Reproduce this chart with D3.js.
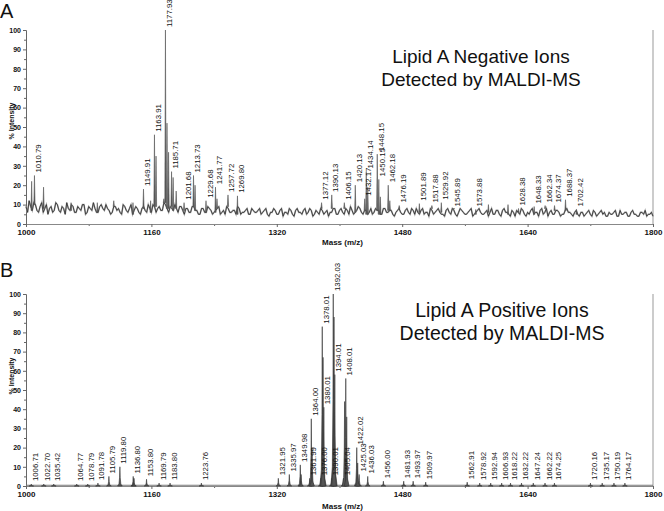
<!DOCTYPE html>
<html>
<head>
<meta charset="utf-8">
<script src="https://cdn.jsdelivr.net/npm/d3@7"></script>
<style>
  body { margin: 0; background: #fff; }
  svg { display: block; }
  text { font-family: "Liberation Sans", Arial, sans-serif; fill: #111; }
</style>
</head>
<body>
<svg id="chart" width="664" height="511"></svg>
<script>
// ---- data ----
const massTicks = [1000, 1160, 1320, 1480, 1640, 1800];
const massMinorTicks = [1080, 1240, 1400, 1560, 1720];
const intensityTicks = [0, 10, 20, 30, 40, 50, 60, 70, 80, 90, 100];

// panel A baseline noise, read every 4 m/z from 1000 to 1800
const negNoise = [
    9, 12, 7, 10, 6, 11, 8, 5, 9, 7, 10, 6, 8, 11, 7, 9, 6, 8, 10, 5, 9, 7, 8, 6, 10, 7,
    8, 5, 9, 7, 6, 10, 7, 8, 5, 9, 6, 8, 7, 10, 6, 9, 8, 7, 11, 8, 9, 7, 8, 9, 7,
    8, 6, 9, 7, 5, 8, 6, 9, 7, 6, 8, 5, 7, 9, 6, 7, 5, 8, 6, 7, 5, 8, 6, 7, 5,
    7, 5, 6, 8, 5, 7, 4, 6, 8, 5, 7, 6, 5, 8, 6, 7, 5, 6, 8, 5, 7, 6, 8, 5, 7,
    6, 8, 5, 7, 6, 9, 6, 7, 5, 8, 6, 7, 5, 8, 6, 7, 5, 6, 8, 5, 7, 6, 8, 5, 6,
    7, 5, 6, 8, 5, 7, 6, 5, 7, 6, 8, 5, 6, 7, 5, 6, 8, 5, 7, 6, 5, 7, 6, 5, 7,
    5, 7, 6, 5, 7, 4, 6, 8, 5, 6, 7, 5, 6, 7, 5, 8, 6, 5, 7, 6, 5, 7, 6, 5, 6,
    5, 6, 4, 6, 5, 7, 4, 6, 5, 4, 6, 5, 7, 4, 5, 6, 4, 6, 5, 4, 6, 5, 4, 5, 4
];
// panel A baseline noise at the in-between points, 1002 to 1798
const negNoiseMid = [
    6, 9, 11, 7, 9, 6, 10, 8, 6, 11, 7, 9, 5, 8, 10, 6, 9, 7, 10, 6, 8, 11, 6, 9, 8,
    10, 7, 6, 9, 8, 5, 9, 6, 10, 7, 8, 5, 9, 6, 8, 10, 6, 9, 7, 10, 6, 8, 10, 6, 9,
    5, 8, 6, 9, 7, 5, 8, 6, 8, 5, 7, 9, 6, 5, 8, 6, 7, 9, 5, 6, 8, 5, 7, 6, 8,
    6, 8, 4, 6, 7, 5, 8, 6, 5, 7, 4, 8, 6, 7, 5, 8, 4, 7, 5, 7, 6, 4, 6, 8, 5,
    8, 5, 7, 9, 5, 7, 8, 5, 7, 6, 5, 8, 7, 5, 8, 6, 7, 4, 7, 6, 5, 8, 5, 7, 8,
    5, 8, 6, 4, 7, 6, 8, 5, 4, 8, 5, 7, 4, 8, 6, 5, 7, 4, 6, 8, 5, 6, 4, 8, 5,
    7, 4, 8, 6, 4, 6, 7, 5, 7, 4, 5, 8, 6, 4, 8, 6, 4, 7, 5, 7, 4, 5, 8, 6, 4,
    7, 4, 6, 5, 7, 4, 6, 5, 7, 6, 4, 5, 6, 4, 7, 5, 6, 4, 7, 5, 4, 6, 7, 5, 6
];
const negNoiseStep = 4;

// panel A labelled peaks
const negPeakMass = [1010.79, 1149.91, 1163.91, 1177.93, 1185.71, 1201.68, 1213.73, 1229.68,
    1241.77, 1257.72, 1269.80, 1377.12, 1390.13, 1406.15, 1420.13, 1432.17, 1434.14, 1448.15,
    1450.15, 1462.18, 1476.19, 1501.89, 1517.88, 1529.92, 1545.89, 1573.88, 1628.38, 1648.33,
    1662.34, 1674.37, 1688.37, 1702.42];
const negPeakIntensity = [25, 18, 46, 100, 27, 11, 25, 12,
    19, 15, 14.5, 11, 15, 11, 20, 13, 27, 36,
    23, 20, 9.5, 10.5, 9.5, 11, 7.5, 7.5, 8, 9,
    9.5, 9.5, 12.5, 7.5];
// panel A unlabelled peaks
const negMinorMass = [1007.2, 1022.4, 1057.5, 1091.0, 1112.0, 1136.5, 1159.0, 1165.9, 1175.9,
    1179.9, 1181.9, 1187.7, 1191.6, 1215.7, 1243.7, 1436.1, 1452.1, 1464.2, 1590.0, 1615.0];
const negMinorIntensity = [22, 19, 11, 11, 12, 11, 12, 35, 13,
    52, 37, 24, 17, 20, 13, 19, 14, 12, 10, 10];

// panel B labelled peaks
const posPeakMass = [1006.71, 1022.70, 1035.42, 1064.77, 1078.79, 1091.78, 1105.79, 1119.80,
    1136.80, 1153.80, 1169.79, 1183.80, 1223.76, 1321.95, 1335.97, 1349.98, 1361.99, 1364.00,
    1376.00, 1378.01, 1380.01, 1390.01, 1392.03, 1394.01, 1405.04, 1408.01, 1422.02, 1425.03,
    1436.03, 1456.00, 1481.93, 1493.97, 1509.97, 1562.91, 1578.92, 1592.94, 1606.93, 1618.22,
    1632.22, 1647.24, 1662.22, 1674.25, 1720.16, 1735.17, 1750.19, 1764.17];
const posPeakIntensity = [1, 1, 1, 1, 1, 1.5, 5, 10,
    5, 3.5, 1.5, 1.5, 1.5, 4, 6, 11, 4, 35,
    4, 83, 41, 4, 100, 58, 4, 56, 20, 6,
    5, 2.5, 2.5, 2.5, 2, 2, 1.5, 1.5, 1.5, 1.5,
    1.5, 1.5, 1.5, 1.5, 1.5, 1.5, 1.5, 1.5];
// panel B unlabelled peaks (isotope shoulders)
const posMinorMass = [1351.0, 1365.0, 1379.0, 1393.0, 1406.5, 1409.2, 1423.2, 1137.8];
const posMinorIntensity = [6, 20, 67, 88, 44, 36, 12, 4];

// ---- layout ----
const svg = d3.select('#chart');
const xLeft = 26, xRight = 653;

const panels = [
    {
        letter: 'A', letterY: 18, top: 30, bottom: 224,
        title: ['Lipid A Negative Ions', 'Detected by MALDI-MS'],
        titleX: 481, titleY: [63, 86], titleSize: 19,
        tickLabelY: 235, massLabelY: 245, yTitleY: 121,
        kind: 'neg'
    },
    {
        letter: 'B', letterY: 277, top: 294, bottom: 486,
        title: ['Lipid A Positive Ions', 'Detected by MALDI-MS'],
        titleX: 502, titleY: [317, 340], titleSize: 19.5,
        tickLabelY: 497, massLabelY: 509, yTitleY: 376,
        kind: 'pos'
    }
];

const x = d3.scaleLinear().domain([1000, 1800]).range([xLeft, xRight]);

panels.forEach(p => {
    const y = d3.scaleLinear().domain([0, 100]).range([p.bottom, p.top]);
    const g = svg.append('g');

    // panel letter
    g.append('text')
        .attr('x', 0)
        .attr('y', p.letterY)
        .style('font-size', '20px')
        .text(p.letter);

    // title
    p.title.forEach((t, i) => {
        g.append('text')
            .attr('x', p.titleX)
            .attr('y', p.titleY[i])
            .attr('text-anchor', 'middle')
            .style('font-size', p.titleSize + 'px')
            .text(t);
    });

    // right frame line
    g.append('line')
        .attr('x1', xRight).attr('x2', xRight)
        .attr('y1', p.top).attr('y2', p.bottom)
        .attr('stroke', '#999').attr('stroke-width', 1);

    // y axis
    const yMinor = g.append('g')
        .attr('transform', 'translate(' + xLeft + ',0)')
        .call(d3.axisLeft(y).tickValues(d3.range(5, 100, 10)).tickSize(2).tickFormat('').tickSizeOuter(0));
    const gY = g.append('g')
        .attr('transform', 'translate(' + xLeft + ',0)')
        .call(d3.axisLeft(y).tickValues(intensityTicks).tickSize(3).tickSizeOuter(0).tickPadding(2));
    [yMinor, gY].forEach(a => {
        a.select('.domain').attr('stroke', '#666');
        a.selectAll('.tick line').attr('stroke', '#666');
    });
    gY.selectAll('.tick text')
        .style('font-size', '7px')
        .style('font-weight', 'bold')
        .style('font-family', '"Liberation Sans", Arial, sans-serif');

    g.append('text')
        .attr('transform', 'translate(14,' + p.yTitleY + ') rotate(-90)')
        .attr('text-anchor', 'middle')
        .style('font-size', '7px')
        .style('font-weight', 'bold')
        .text('% Intensity');

    // x axis
    const xMinor = g.append('g')
        .attr('transform', 'translate(0,' + p.bottom + ')')
        .call(d3.axisBottom(x).tickValues(massMinorTicks).tickSize(2).tickFormat('').tickSizeOuter(0));
    const gX = g.append('g')
        .attr('transform', 'translate(0,' + p.bottom + ')')
        .call(d3.axisBottom(x).tickValues(massTicks).tickSize(3).tickSizeOuter(0).tickPadding(3).tickFormat(d3.format('d')));
    [xMinor, gX].forEach(a => {
        a.select('.domain').attr('stroke', '#888');
        a.selectAll('.tick line').attr('stroke', '#666');
    });
    gX.selectAll('.tick text')
        .attr('y', null).attr('dy', null)
        .attr('transform', 'translate(0,' + (p.tickLabelY - p.bottom) + ')')
        .style('font-size', '8px')
        .style('font-weight', 'bold')
        .style('font-family', '"Liberation Sans", Arial, sans-serif');

    g.append('text')
        .attr('x', x(1400) + 3)
        .attr('y', p.massLabelY)
        .attr('text-anchor', 'middle')
        .style('font-size', '8px')
        .style('font-weight', 'bold')
        .text('Mass (m/z)');

    let labelMass, labelInt;
    if (p.kind === 'neg') {
        // interleave the two noise readings into one trace
        const noisePts = [];
        negNoise.forEach((v, i) => {
            noisePts.push([1000 + i * negNoiseStep, v]);
            if (i < negNoiseMid.length) noisePts.push([1000 + i * negNoiseStep + negNoiseStep / 2, negNoiseMid[i]]);
        });
        const noiseAt = m => negNoise[Math.round((m - 1000) / negNoiseStep)];
        const noiseLine = d3.line().x(d => x(d[0])).y(d => y(d[1]));

        g.append('path')
            .datum(noisePts)
            .attr('fill', 'none')
            .attr('stroke', '#aaa')
            .attr('stroke-width', 1.6)
            .attr('d', noiseLine);
        g.append('path')
            .datum(noisePts)
            .attr('fill', 'none')
            .attr('stroke', '#2a2a2a')
            .attr('stroke-width', 0.8)
            .attr('d', noiseLine);

        const spikes = negPeakMass.map((m, i) => [m, negPeakIntensity[i]])
            .concat(negMinorMass.map((m, i) => [m, negMinorIntensity[i]]));
        g.selectAll('.spike')
            .data(spikes)
            .enter()
            .append('path')
            .attr('class', 'spike')
            .attr('fill', '#555')
            .attr('stroke', '#555')
            .attr('stroke-width', 0.6)
            .attr('d', d => {
                const b = noiseAt(d[0]);
                return 'M' + x(d[0] - 0.8) + ',' + y(b) + 'L' + x(d[0]) + ',' + y(d[1]) + 'L' + x(d[0] + 0.8) + ',' + y(b) + 'Z';
            });

        labelMass = negPeakMass;
        labelInt = negPeakIntensity;
    } else {
        g.append('line')
            .attr('x1', xLeft).attr('x2', xRight)
            .attr('y1', y(0.4)).attr('y2', y(0.4))
            .attr('stroke', '#777').attr('stroke-width', 1.2);

        const peaks = posPeakMass.map((m, i) => [m, posPeakIntensity[i]])
            .concat(posMinorMass.map((m, i) => [m, posMinorIntensity[i]]));
        g.selectAll('.peak')
            .data(peaks)
            .enter()
            .append('path')
            .attr('class', 'peak')
            .attr('fill', '#555')
            .attr('stroke', '#333')
            .attr('stroke-width', 0.6)
            .attr('d', d => {
                const m = d[0], h = d[1];
                const pts = [[m - 3, 0], [m - 1.2, h * 0.1], [m - 0.4, h * 0.45], [m, h],
                    [m + 0.4, h * 0.45], [m + 1.2, h * 0.1], [m + 3, 0]];
                return d3.line().x(q => x(q[0])).y(q => y(q[1]))(pts) + 'Z';
            });

        labelMass = posPeakMass;
        labelInt = posPeakIntensity;
    }

    // peak labels
    g.selectAll('.plabel')
        .data(labelMass)
        .enter()
        .append('text')
        .attr('class', 'plabel')
        .attr('transform', (d, i) => 'translate(' + (x(d) + 6.5) + ',' + (y(labelInt[i]) - 3) + ') rotate(-90)')
        .style('font-size', '7.8px')
        .text(d => d.toFixed(2));
});
</script>
</body>
</html>
